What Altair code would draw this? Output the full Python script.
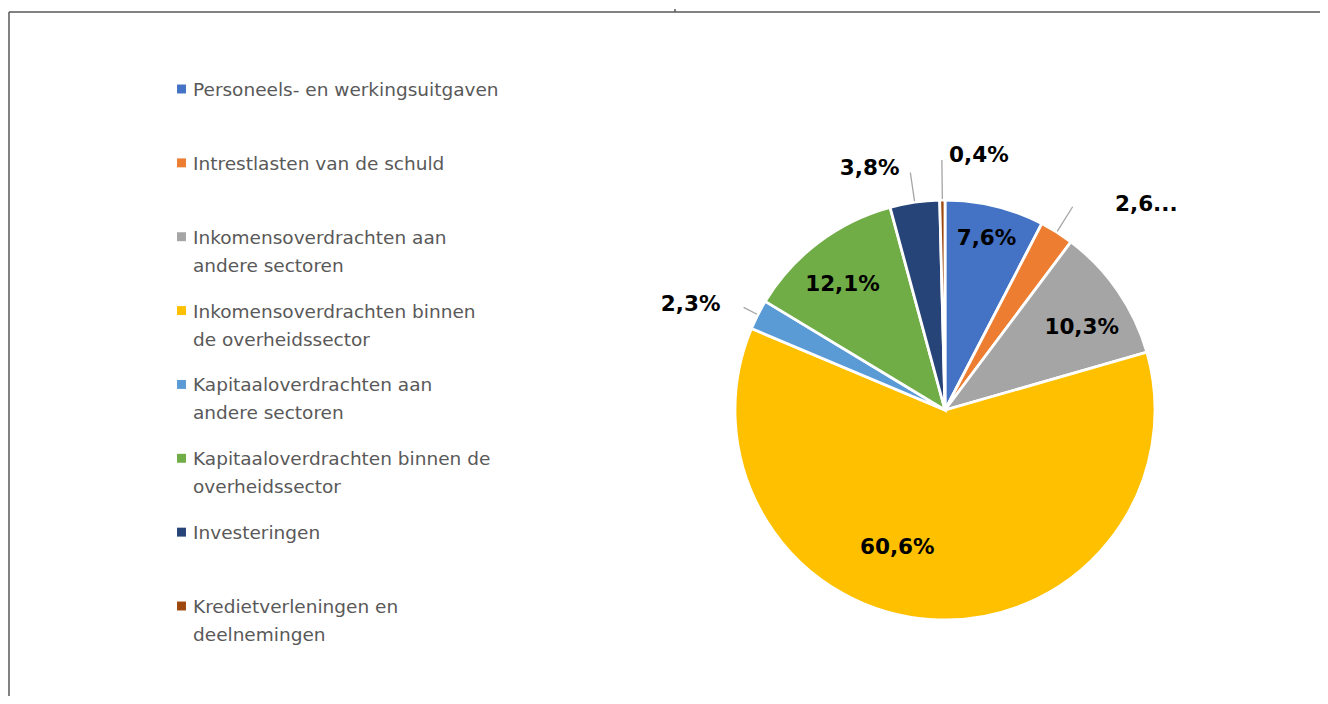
import math
import altair as alt
import pandas as pd

categories = [
    "Personeels- en werkingsuitgaven",
    "Intrestlasten van de schuld",
    "Inkomensoverdrachten aan andere sectoren",
    "Inkomensoverdrachten binnen de overheidssector",
    "Kapitaaloverdrachten aan andere sectoren",
    "Kapitaaloverdrachten binnen de overheidssector",
    "Investeringen",
    "Kredietverleningen en deelnemingen",
]
legend_text = [
    "Personeels- en werkingsuitgaven",
    "Intrestlasten van de schuld",
    "Inkomensoverdrachten aan|andere sectoren",
    "Inkomensoverdrachten binnen|de overheidssector",
    "Kapitaaloverdrachten aan|andere sectoren",
    "Kapitaaloverdrachten binnen de|overheidssector",
    "Investeringen",
    "Kredietverleningen en|deelnemingen",
]
values = [7.6, 2.6, 10.3, 60.6, 2.3, 12.1, 3.8, 0.4]
labels = ["7,6%", "2,6...", "10,3%", "60,6%", "2,3%", "12,1%", "3,8%", "0,4%"]
colors = ["#4472C4", "#ED7D31", "#A5A5A5", "#FFC000", "#5B9BD5", "#70AD47", "#264478", "#9E480E"]

df = pd.DataFrame({
    "category": categories,
    "legend": legend_text,
    "value": values,
    "label": labels,
    "idx": list(range(len(categories))),
})

total = sum(values)
W, H = 1312, 688
CX, CY, R = 936, 401, 210

theta_scale = alt.Scale(domain=[0, total], range=[0, 2 * math.pi])
color = alt.Color("category:N", scale=alt.Scale(domain=categories, range=colors), legend=None)

base = alt.Chart(df).transform_window(
    cum="sum(value)", sort=[alt.SortField("idx")], frame=[None, 0]
).transform_calculate(
    start="datum.cum - datum.value",
    mid="datum.cum - datum.value / 2",
)

pie = base.mark_arc(outerRadius=R, stroke="white", strokeWidth=2.8).encode(
    theta=alt.Theta("start:Q", scale=theta_scale),
    theta2="cum:Q",
    color=color,
    x=alt.value(CX),
    y=alt.value(CY),
)

# leader lines: (inner radius, outer radius)
leader_len = {
    "2,6...": (R + 1, R + 30),
    "2,3%": (R + 1, R + 16),
    "3,8%": (R + 1, R + 30),
    "0,4%": (R + 1, R + 40),
}
leader_layers = []
for lab, (r0, r1) in leader_len.items():
    leader_layers.append(
        base.transform_filter(alt.datum.label == lab).mark_arc(
            innerRadius=r0, outerRadius=r1, fillOpacity=0,
            stroke="#A5A5A5", strokeWidth=1.3,
        ).encode(
            theta=alt.Theta("mid:Q", scale=theta_scale),
            theta2="mid:Q",
            x=alt.value(CX),
            y=alt.value(CY),
        )
    )

# label placement: (radius, dx, dy)
placement = {
    "7,6%": (175, 0, -1),
    "2,6...": (245, 71, 2),
    "10,3%": (160, 5, 9),
    "60,6%": (145, -39, -7),
    "2,3%": (245, -36, 6),
    "12,1%": (162, -5, 4),
    "3,8%": (245, -40, 1),
    "0,4%": (245, 37, -9),
}

label_layers = []
for lab, (r, dx, dy) in placement.items():
    label_layers.append(
        base.transform_filter(alt.datum.label == lab).mark_text(
            font="DejaVu Sans", fontWeight="bold", fontSize=21.5, color="black",
            align="center", baseline="middle", dx=dx, dy=dy,
        ).encode(
            theta=alt.Theta("mid:Q", scale=theta_scale, stack=False),
            radius=alt.value(r),
            text="label:N",
            x=alt.value(CX),
            y=alt.value(CY),
        )
    )

ypos = alt.Y("idx:Q", scale=alt.Scale(domain=[0, 7], range=[87, 604]), axis=None)
leg_sq = alt.Chart(df).mark_square(size=80, yOffset=-7, opacity=1).encode(
    x=alt.value(172.5), y=ypos, color=color,
)
leg_txt = alt.Chart(df).mark_text(
    font="DejaVu Sans", fontSize=18.5, color="#595959", align="left",
    baseline="alphabetic", lineBreak="|", lineHeight=28,
).encode(x=alt.value(184), y=ypos, text="legend:N")

dummy = pd.DataFrame({"d": [0]})
border_left = alt.Chart(dummy).mark_rule(color="#595959", strokeWidth=1.5).encode(
    x=alt.value(0), y=alt.value(3), y2=alt.value(H))
border_top = alt.Chart(dummy).mark_rule(color="#595959", strokeWidth=1.5).encode(
    x=alt.value(0), x2=alt.value(W), y=alt.value(3))
border_tick = alt.Chart(dummy).mark_rule(color="#595959", strokeWidth=1.5).encode(
    x=alt.value(666), y=alt.value(0), y2=alt.value(3))

chart = alt.layer(
    border_left, border_top, border_tick, pie, *leader_layers, *label_layers, leg_sq, leg_txt
).properties(
    width=W, height=H,
    autosize=alt.AutoSizeParams(type="fit", contains="padding"),
    padding=0,
).configure_view(stroke=None)

chart.save("out.html", embed_options={"renderer": "svg", "actions": False})
